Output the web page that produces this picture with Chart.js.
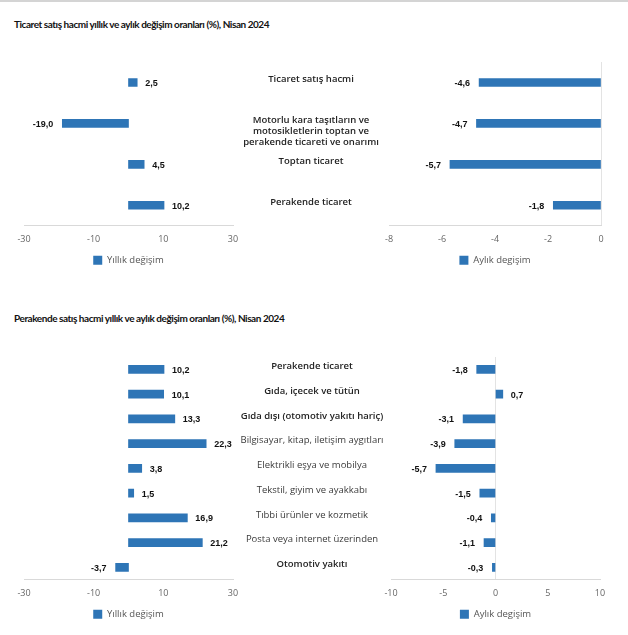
<!DOCTYPE html>
<html>
<head>
<meta charset="utf-8">
<script src="https://cdn.jsdelivr.net/npm/chart.js@4.4.1/dist/chart.umd.min.js"></script>
<style>
body { margin: 0; background: #fff; font-family: "Open Sans", sans-serif; }
#page { position: relative; width: 628px; height: 635px; border-top: 2px solid #d4d4d4; box-sizing: border-box; overflow: hidden; }
.title { position: absolute; left: 14px; font-family: Lato, sans-serif; font-size: 10px; font-weight: bold; color: #111; letter-spacing: -0.45px; }
.box { position: absolute; }
</style>
</head>
<body>
<div id="page">
  <div class="title" style="top:16px">Ticaret satış hacmi yıllık ve aylık değişim oranları (%), Nisan 2024</div>
  <div class="box" style="left:0;top:50px;width:244px;height:223px"><canvas id="c1"></canvas></div>
  <div class="box" style="left:233px;top:50px;width:395px;height:223px"><canvas id="c2"></canvas></div>

  <div class="title" style="top:310px">Perakende satış hacmi yıllık ve aylık değişim oranları (%), Nisan 2024</div>
  <div class="box" style="left:0;top:345px;width:244px;height:282px"><canvas id="c3"></canvas></div>
  <div class="box" style="left:233px;top:345px;width:395px;height:282px"><canvas id="c4"></canvas></div>
</div>
<script>
// ticaret
const ticaretLabels = [
  'Ticaret satış hacmi',
  ['Motorlu kara taşıtların ve', 'motosikletlerin toptan ve', 'perakende ticareti ve onarımı'],
  'Toptan ticaret',
  'Perakende ticaret'
];
const ticaretYillik = [2.5, -19.0, 4.5, 10.2];
const ticaretAylik = [-4.6, -4.7, -5.7, -1.8];
const ticaretBold = [true, true, true, true];

// perakende
const perakendeLabels = [
  'Perakende ticaret',
  'Gıda, içecek ve tütün',
  'Gıda dışı (otomotiv yakıtı hariç)',
  'Bilgisayar, kitap, iletişim aygıtları',
  'Elektrikli eşya ve mobilya',
  'Tekstil, giyim ve ayakkabı',
  'Tıbbi ürünler ve kozmetik',
  'Posta veya internet üzerinden',
  'Otomotiv yakıtı'
];
const perakendeYillik = [10.2, 10.1, 13.3, 22.3, 3.8, 1.5, 16.9, 21.2, -3.7];
const perakendeAylik = [-1.8, 0.7, -3.1, -3.9, -5.7, -1.5, -0.4, -1.1, -0.3];
const perakendeBold = [true, true, true, false, false, false, false, false, true];

const yillikName = 'Yıllık değişim';
const aylikName = 'Aylık degişim';
const blue = '#2e75b6';
const tickFont = { family: 'Open Sans', size: 9 };

// value labels next to the bar ends
const valueLabels = {
  id: 'valueLabels',
  afterDatasetsDraw(chart) {
    const ctx = chart.ctx;
    const meta = chart.getDatasetMeta(0);
    const data = chart.data.datasets[0].data;
    ctx.save();
    ctx.font = 'bold 9px "Liberation Sans", Arial, sans-serif';
    ctx.fillStyle = '#111';
    ctx.textBaseline = 'middle';
    meta.data.forEach((bar, i) => {
      const v = data[i];
      const txt = v.toFixed(1).replace('.', ',');
      if (v >= 0) {
        ctx.textAlign = 'left';
        ctx.fillText(txt, bar.x + 8, bar.y + 1);
      } else {
        ctx.textAlign = 'right';
        ctx.fillText(txt, bar.x - 9, bar.y + 1);
      }
    });
    ctx.restore();
  }
};

// category names centred in the y axis box, first line near the bar
const categoryLabels = {
  id: 'categoryLabels',
  afterDraw(chart) {
    const bold = chart.options.plugins.categoryLabels && chart.options.plugins.categoryLabels.bold;
    if (!bold) return;
    const scale = chart.scales.y;
    const ctx = chart.ctx;
    const cx = (scale.left + scale.right) / 2;
    ctx.save();
    ctx.textAlign = 'center';
    ctx.textBaseline = 'middle';
    chart.data.labels.forEach((lab, i) => {
      const lines = Array.isArray(lab) ? lab : [lab];
      const y0 = scale.getPixelForTick(i) - 3;
      ctx.font = (bold[i] ? '600 ' : '400 ') + '9.5px "Open Sans", sans-serif';
      ctx.fillStyle = bold[i] ? '#222' : '#3a3a3a';
      lines.forEach((t, j) => ctx.fillText(t, cx, y0 + j * 11));
    });
    ctx.restore();
  }
};

function makeChart(id, labels, values, name, xmin, xmax, step, withLabels, boldList, axisWidth, plotWidth) {
  const xAxis = {
    min: xmin,
    max: xmax,
    ticks: { stepSize: step, color: '#666', font: tickFont, padding: 8 },
    grid: {
      drawTicks: false,
      color: (c) => (c.tick && c.tick.value === 0 ? '#e3e3e3' : 'rgba(0,0,0,0)')
    },
    border: { display: true, color: '#d9d9d9' },
    // no extra room for overflowing end labels, padding alone sets the plot width
    afterFit: (s) => { s.paddingLeft = 0; s.paddingRight = 0; }
  };
  const yAxis = { display: false };
  if (withLabels) {
    yAxis.display = true;
    yAxis.grid = { display: false };
    yAxis.border = { display: false };
    yAxis.ticks = { display: false };
    yAxis.afterFit = (s) => { s.width = axisWidth; };
  }
  const canvasWidth = withLabels ? 395 : 244;
  const left = withLabels ? 0 : 24;
  return new Chart(document.getElementById(id), {
    type: 'bar',
    data: {
      labels: labels,
      datasets: [{
        label: name,
        data: values,
        backgroundColor: blue,
        barThickness: 8
      }]
    },
    options: {
      indexAxis: 'y',
      responsive: true,
      maintainAspectRatio: false,
      animation: false,
      layout: { padding: { top: 10, left: left, right: canvasWidth - left - axisWidth - plotWidth, bottom: 0 } },
      scales: { x: xAxis, y: yAxis },
      plugins: {
        categoryLabels: { bold: withLabels ? boldList : null },
        legend: {
          position: 'bottom',
          fullSize: false,
          labels: {
            boxWidth: 9,
            boxHeight: 9,
            color: '#555',
            font: { family: 'Open Sans', size: 9.5 },
            padding: 3
          }
        },
        tooltip: { enabled: false }
      }
    },
    plugins: [valueLabels, categoryLabels]
  });
}

makeChart('c1', ticaretLabels, ticaretYillik, yillikName, -30, 30, 20, false, ticaretBold, 0, 209);
makeChart('c2', ticaretLabels, ticaretAylik, aylikName, -8, 0, 2, true, ticaretBold, 156, 212);
makeChart('c3', perakendeLabels, perakendeYillik, yillikName, -30, 30, 20, false, perakendeBold, 0, 209);
makeChart('c4', perakendeLabels, perakendeAylik, aylikName, -10, 10, 5, true, perakendeBold, 158, 209);
</script>
</body>
</html>
